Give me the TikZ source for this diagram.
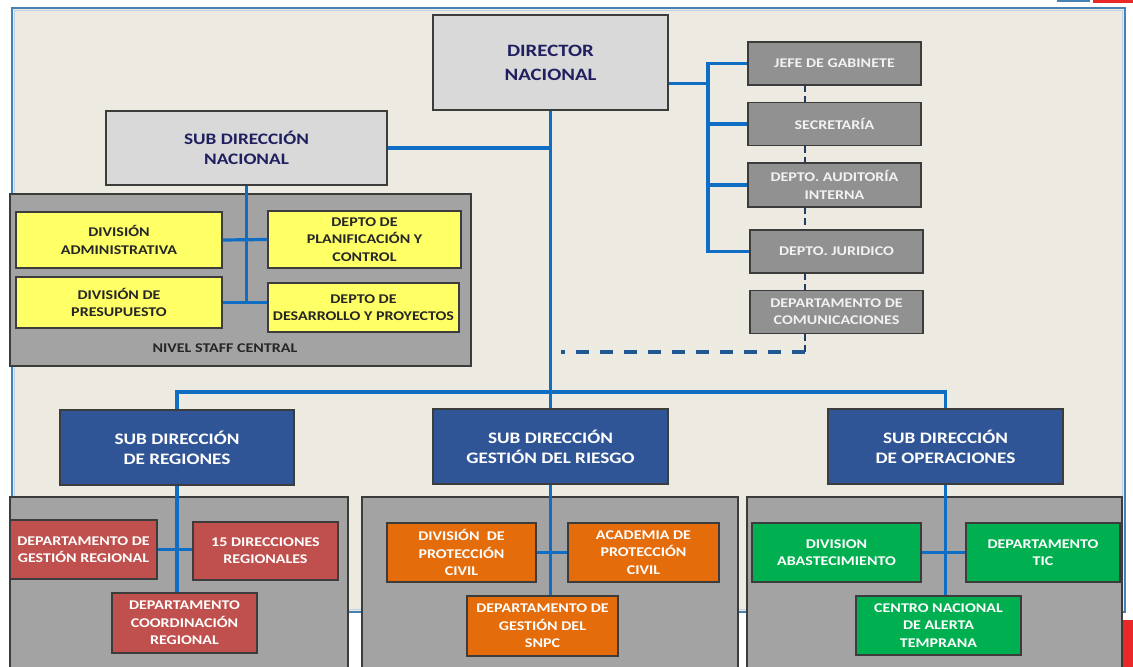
\documentclass[tikz,border=0pt]{standalone}
\usepackage{fontspec}
\setmainfont{Carlito}[FakeStretch=1.2]
\usetikzlibrary{calc}
\definecolor{panel}{RGB}{237,234,226}
\definecolor{panelline}{RGB}{70,130,180}
\definecolor{connblue}{RGB}{15,110,195}
\definecolor{dashblue}{RGB}{30,90,145}
\definecolor{darkdash}{RGB}{30,60,100}
\definecolor{boxline}{RGB}{60,60,60}
\definecolor{dirgray}{RGB}{217,217,217}
\definecolor{staffgray}{RGB}{145,145,145}
\definecolor{groupgray}{RGB}{163,163,163}
\definecolor{navytxt}{RGB}{32,32,96}
\definecolor{yelbox}{RGB}{255,255,102}
\definecolor{redbox}{RGB}{192,80,77}
\definecolor{orangebox}{RGB}{228,108,10}
\definecolor{greenbox}{RGB}{0,176,80}
\definecolor{subblue}{RGB}{47,85,151}
\definecolor{decored}{RGB}{235,40,40}
\definecolor{stafftxt}{RGB}{242,242,242}
\definecolor{darktxt}{RGB}{38,38,38}
\begin{document}
\begin{tikzpicture}[x=0.75pt,y=-0.75pt,
  sz/.style 2 args={minimum width=#1*0.75pt, minimum height=#2*0.75pt},
  box/.style={draw=boxline, line width=1pt, inner sep=0pt, align=center,
    font=\bfseries\fontsize{10}{13}\selectfont},
  bigbox/.style={box, font=\bfseries\fontsize{12}{15}\selectfont},
  topbox/.style={box, fill=dirgray, text=navytxt, font=\bfseries\fontsize{13}{18}\selectfont},
  grp/.style={draw=boxline, line width=1pt, fill=groupgray, inner sep=0pt},
  staffbox/.style={box, fill=staffgray, text=stafftxt},
  yelb/.style={box, fill=yelbox, text=darktxt},
  redb/.style={box, fill=redbox, text=white},
  orab/.style={box, fill=orangebox, text=white},
  greb/.style={box, fill=greenbox, text=white},
  subb/.style={bigbox, fill=subblue, text=white},
  conn/.style={draw=connblue, line width=2.4pt},
  sdash/.style={draw=darkdash, line width=2pt, dash pattern=on 5pt off 3pt},
  ldash/.style={draw=dashblue, line width=2.4pt, dash pattern=on 10pt off 8pt}
]
\clip (0,0) rectangle (1133,667);
\fill[white] (0,0) rectangle (1133,667);
% decorative corner fragments
\fill[decored] (1093,0) rectangle (1133,3);
\draw[panelline, line width=1.5pt] (1057,0.7) -- (1090,0.7);
\fill[decored] (1121,620) rectangle (1133,667);
% background panel
\fill[panel] (12,8) rectangle (1125,612);
\draw[panelline!35, line width=1pt] (14.5,10.5) rectangle (1122.5,609.5);
\draw[panelline, line width=1pt] (12,8) rectangle (1125,612);

% group panels
\node[grp, sz={461}{172}] (gstaff) at (240.5,280) {};
\node[grp, sz={338}{178}] (greg) at (179,586) {};
\node[grp, sz={376}{178}] (gges) at (550,586) {};
\node[grp, sz={375}{178}] (gope) at (934.5,586) {};
\node[font=\bfseries\fontsize{10}{13}\selectfont, text=darktxt, inner sep=0pt] (lblstaff) at (225,348) {NIVEL STAFF CENTRAL};

% top level
\node[topbox, sz={235}{95}] (dir) at (550.5,62.5) {DIRECTOR\\NACIONAL};
\node[bigbox, fill=dirgray, text=navytxt, sz={281}{74}] (sdn) at (246.5,148) {SUB DIRECCIÓN\\NACIONAL};

% staff
\node[staffbox, sz={173}{43}] (jefe) at (834.5,63.5) {JEFE DE GABINETE};
\node[staffbox, sz={173}{43}] (secr) at (834.5,124) {SECRETARÍA};
\node[staffbox, sz={173}{44}] (audit) at (834.5,185) {DEPTO. AUDITORÍA\\INTERNA};
\node[staffbox, sz={173}{43}] (jur) at (836.5,251.5) {DEPTO. JURIDICO};
\node[staffbox, sz={173}{43}] (com) at (836.5,312) {DEPARTAMENTO DE\\COMUNICACIONES};

% staff central
\node[yelb, sz={206}{56}] (ya) at (119,240) {DIVISIÓN\\ADMINISTRATIVA};
\node[yelb, sz={193}{57}] (yp) at (364.5,239.5) {DEPTO DE\\PLANIFICACIÓN Y\\CONTROL};
\node[yelb, sz={206}{51}] (yb) at (119,302.5) {DIVISIÓN DE\\PRESUPUESTO};
\node[yelb, sz={191}{49}] (yd) at (363.5,307.5) {DEPTO DE\\DESARROLLO Y PROYECTOS};

% sub direcciones
\node[subb, sz={234}{75}] (reg) at (177,447.5) {SUB DIRECCIÓN\\DE REGIONES};
\node[subb, sz={235}{75}] (ges) at (550.5,446.5) {SUB DIRECCIÓN\\GESTIÓN DEL RIESGO};
\node[subb, sz={235}{75}] (ope) at (945.5,446.5) {SUB DIRECCIÓN\\DE OPERACIONES};

% regiones
\node[redb, sz={147}{59}] (rg) at (83.5,549.5) {DEPARTAMENTO DE\\GESTIÓN REGIONAL};
\node[redb, sz={145}{58}] (r15) at (265.5,551) {15 DIRECCIONES\\REGIONALES};
\node[redb, sz={145}{60}] (rc) at (184.5,623) {DEPARTAMENTO\\COORDINACIÓN\\REGIONAL};

% gestion del riesgo
\node[orab, sz={149}{59}] (od) at (461.5,552.5) {DIVISIÓN~~DE\\PROTECCIÓN\\CIVIL};
\node[orab, sz={151}{59}] (oa) at (643.5,552.5) {ACADEMIA DE\\PROTECCIÓN\\CIVIL};
\node[orab, sz={151}{60}] (os) at (542.5,626) {DEPARTAMENTO DE\\GESTIÓN DEL\\SNPC};

% operaciones
\node[greb, sz={169}{59}] (ga) at (836.5,552.5) {DIVISION\\ABASTECIMIENTO};
\node[greb, sz={154}{59}] (gt) at (1043,552.5) {DEPARTAMENTO\\TIC};
\node[greb, sz={165}{59}] (gc) at (938.5,625.5) {CENTRO NACIONAL\\DE ALERTA\\TEMPRANA};

% helper coordinates
\coordinate (sbx) at (708,0);
\coordinate (vx) at (805,0);
\coordinate (bus) at (0,392);
\coordinate (dashl) at (561,352);
\coordinate (dirr) at ($(dir.north east)!0.72!(dir.south east)$);

% connectors: top
\draw[conn] (dir.south) -- (ges.north);
\draw[conn] (sdn.east) -- (sdn.east -| dir.south);
\draw[conn] (reg.north) -- (reg.north |- bus) -- (ope.north |- bus) -- (ope.north);
\draw[conn] (dirr) -- (dirr -| sbx);
\draw[conn] (jefe.west) -- (jefe.west -| sbx) -- (jur.west -| sbx) -- (jur.west);
\draw[conn] (secr.west) -- (secr.west -| sbx);
\draw[conn] (audit.west) -- (audit.west -| sbx);
\draw[sdash] (jefe.south -| vx) -- (secr.north -| vx);
\draw[sdash] (secr.south -| vx) -- (audit.north -| vx);
\draw[sdash] (audit.south -| vx) -- (jur.north -| vx);
\draw[sdash] (jur.south -| vx) -- (com.north -| vx);
\draw[sdash] (com.south -| vx) -- (vx |- dashl);
\draw[ldash] (vx |- dashl) -- (dashl);

% staff central
\draw[conn] (sdn.south) -- (sdn.south |- yb.east);
\draw[conn] (ya.east) -- (yp.west);
\draw[conn] (yb.east) -- (yb.east -| yd.west);

% regiones
\draw[conn] (reg.south) -- (reg.south |- rc.north);
\draw[conn] (rg.east) -- (rg.east -| r15.west);
% gestion
\draw[conn] (ges.south) -- (ges.south |- os.north);
\draw[conn] (od.east) -- (oa.west);
% operaciones
\draw[conn] (ope.south) -- (ope.south |- gc.north);
\draw[conn] (ga.east) -- (gt.west);
\end{tikzpicture}
\end{document}
